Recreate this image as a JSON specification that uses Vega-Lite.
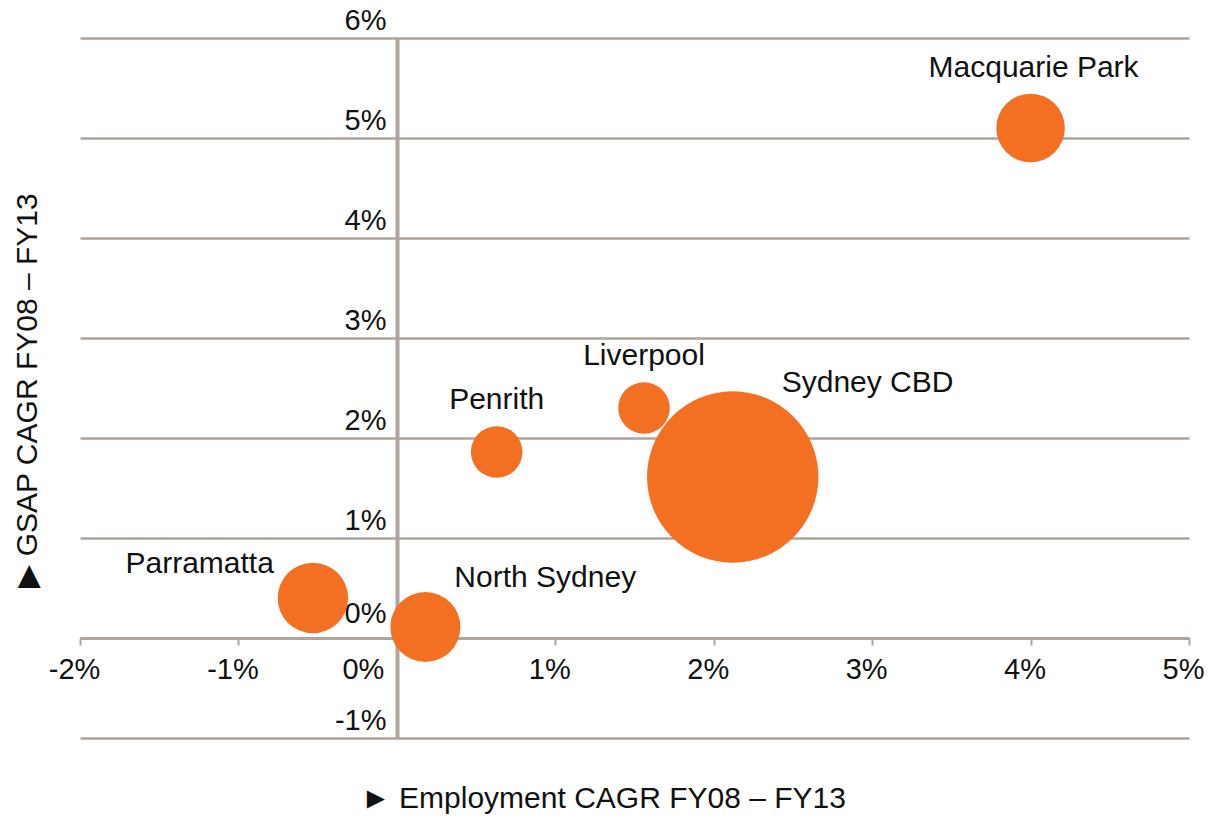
{
  "$schema": "https://vega.github.io/schema/vega-lite/v6.json",
  "width": 1109,
  "height": 700,
  "autosize": {"type": "none"},
  "padding": {"left": 80, "top": 38, "right": 25, "bottom": 82},
  "background": "white",
  "config": {"view": {"stroke": null}, "font": "Liberation Sans"},
  "data": {
    "values": [
      {"area": "Macquarie Park", "employment": 4.0, "gsap": 5.1, "size": 16.0},
      {"area": "Liverpool", "employment": 1.56, "gsap": 2.3, "size": 9.06},
      {"area": "Sydney CBD", "employment": 2.12, "gsap": 1.61, "size": 100},
      {"area": "Penrith", "employment": 0.63, "gsap": 1.86, "size": 9.06},
      {"area": "Parramatta", "employment": -0.53, "gsap": 0.4, "size": 16.9},
      {"area": "North Sydney", "employment": 0.18, "gsap": 0.11, "size": 16.7}
    ]
  },
  "encoding": {
    "x": {
      "field": "employment",
      "type": "quantitative",
      "scale": {"domain": [-2, 5], "nice": false, "zero": false},
      "axis": {
        "orient": "bottom",
        "offset": -100,
        "values": [-2, -1, 0, 1, 2, 3, 4, 5],
        "grid": false,
        "domainColor": "#aea59d",
        "domainWidth": 3,
        "tickColor": "#aea59d",
        "tickWidth": 2,
        "tickSize": 7,
        "labelPadding": 10,
        "labelFont": "Liberation Sans",
        "labelFontSize": 29,
        "labelColor": "#111111",
        "labelBaseline": "top",
        "labelAlign": {"condition": {"test": "datum.value === 0", "value": "right"}, "value": "center"},
        "labelOffset": {"condition": {"test": "datum.value === 0", "value": -13}, "value": -6},
        "labelExpr": "datum.value + '%'",
        "labelOverlap": false,
        "labelFlush": false,
        "title": "►  Employment CAGR FY08 – FY13",
        "titleFont": "Liberation Sans",
        "titleFontSize": 30,
        "titleFontWeight": "normal",
        "titleColor": "#111111",
        "titleX": 523,
        "titleY": 169,
        "titleAlign": "center",
        "titleBaseline": "alphabetic"
      }
    },
    "y": {
      "field": "gsap",
      "type": "quantitative",
      "scale": {"domain": [-1, 6], "nice": false, "zero": false},
      "axis": {
        "orient": "left",
        "offset": -317,
        "values": [-1, 0, 1, 2, 3, 4, 5, 6],
        "grid": true,
        "gridColor": "#aea59d",
        "gridWidth": 2.5,
        "domainColor": "#aea59d",
        "domainWidth": 4,
        "ticks": false,
        "tickSize": 0,
        "labelPadding": 11,
        "labelFont": "Liberation Sans",
        "labelFontSize": 29,
        "labelColor": "#111111",
        "labelBaseline": "alphabetic",
        "labelOffset": {"condition": {"test": "datum.value === 0", "value": -16}, "value": -9},
        "labelExpr": "datum.value + '%'",
        "labelOverlap": false,
        "labelFlush": false,
        "title": "▶  GSAP CAGR FY08 – FY13",
        "titleFont": "Liberation Sans",
        "titleFontSize": 30,
        "titleFontWeight": "normal",
        "titleColor": "#111111",
        "titleAngle": -90,
        "titleX": -370,
        "titleY": 352,
        "titleAlign": "center",
        "titleBaseline": "middle"
      }
    }
  },
  "layer": [
    {
      "mark": {"type": "circle", "color": "#f37022", "opacity": 1},
      "encoding": {
        "size": {
          "field": "size",
          "type": "quantitative",
          "scale": {"domain": [0, 100], "range": [0, 29378]},
          "legend": null
        }
      }
    },
    {
      "transform": [{"filter": "datum.area === 'Liverpool' || datum.area === 'Penrith'"}],
      "mark": {"type": "text", "align": "center", "baseline": "alphabetic", "dy": -43, "fontSize": 30, "font": "Liberation Sans", "color": "#111111"},
      "encoding": {"text": {"field": "area"}}
    },
    {
      "transform": [{"filter": "datum.area === 'Macquarie Park'"}],
      "mark": {"type": "text", "align": "center", "baseline": "alphabetic", "dx": 3, "dy": -51, "fontSize": 30, "font": "Liberation Sans", "color": "#111111"},
      "encoding": {"text": {"field": "area"}}
    },
    {
      "transform": [{"filter": "datum.area === 'Sydney CBD'"}],
      "mark": {"type": "text", "align": "left", "baseline": "alphabetic", "dx": 49, "dy": -85, "fontSize": 30, "font": "Liberation Sans", "color": "#111111"},
      "encoding": {"text": {"field": "area"}}
    },
    {
      "transform": [{"filter": "datum.area === 'North Sydney'"}],
      "mark": {"type": "text", "align": "left", "baseline": "alphabetic", "dx": 29, "dy": -40, "fontSize": 30, "font": "Liberation Sans", "color": "#111111"},
      "encoding": {"text": {"field": "area"}}
    },
    {
      "transform": [{"filter": "datum.area === 'Parramatta'"}],
      "mark": {"type": "text", "align": "right", "baseline": "alphabetic", "dx": -39, "dy": -25, "fontSize": 30, "font": "Liberation Sans", "color": "#111111"},
      "encoding": {"text": {"field": "area"}}
    }
  ]
}
